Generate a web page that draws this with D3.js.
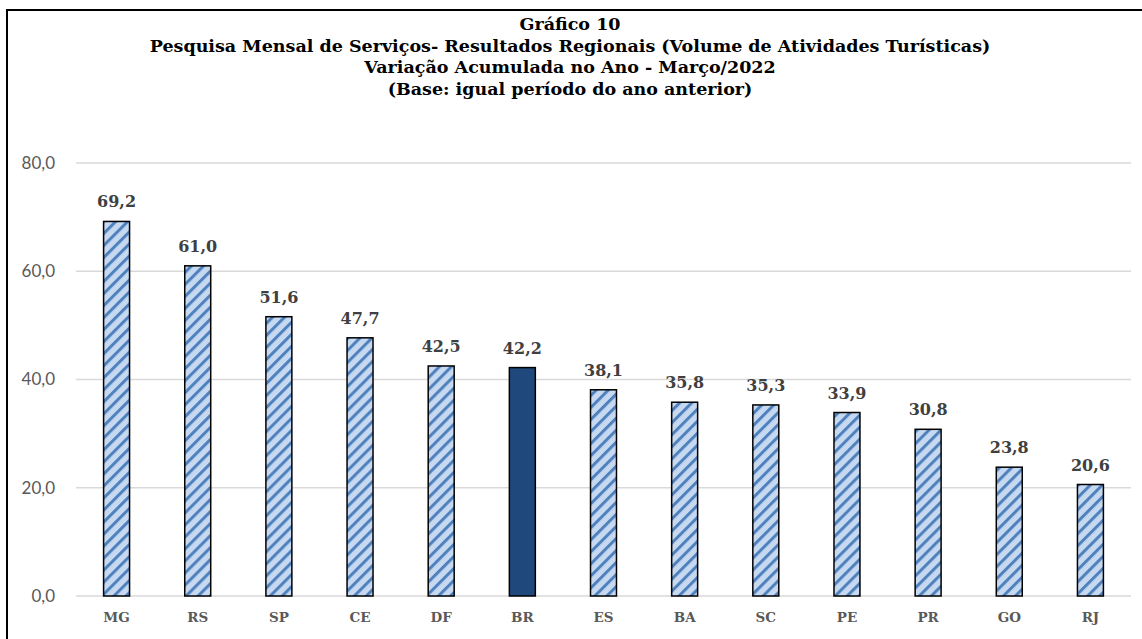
<!DOCTYPE html>
<html>
<head>
<meta charset="utf-8">
<script src="https://cdn.jsdelivr.net/npm/d3@7"></script>
<style>
  body { margin: 0; background: #fff; }
  svg { display: block; }
</style>
</head>
<body>
<script>
const categories = ["MG", "RS", "SP", "CE", "DF", "BR", "ES", "BA", "SC", "PE", "PR", "GO", "RJ"];
const values = [69.2, 61.0, 51.6, 47.7, 42.5, 42.2, 38.1, 35.8, 35.3, 33.9, 30.8, 23.8, 20.6];
const highlight = "BR";
const yTicks = [0, 20, 40, 60, 80];
const titleLines = [
    "Gráfico 10",
    "Pesquisa Mensal de Serviços- Resultados Regionais (Volume de Atividades Turísticas)",
    "Variação Acumulada no Ano - Março/2022",
    "(Base: igual período do ano anterior)"
];

const svgWidth = 1142;
const svgHeight = 639;
const margin = {top: 163, right: 11, bottom: 43, left: 76};
const chartWidth = svgWidth - margin.left - margin.right;
const chartHeight = svgHeight - margin.top - margin.bottom;

const serif = "'DejaVu Serif', serif";
const fmt = v => d3.format(".1f")(v).replace(".", ",");

const svg = d3.select("body").append("svg")
    .attr("width", svgWidth)
    .attr("height", svgHeight);

// diagonal stripe pattern
const pat = svg.append("defs").append("pattern")
    .attr("id", "stripes")
    .attr("patternUnits", "userSpaceOnUse")
    .attr("width", 8.5)
    .attr("height", 8.5)
    .attr("patternTransform", "rotate(45)");
pat.append("rect").attr("width", 8.5).attr("height", 8.5).attr("fill", "#c6d9f1");
pat.append("rect").attr("x", 0).attr("width", 3).attr("height", 8.5).attr("fill", "#4f81bd");

// frame
svg.append("rect")
    .attr("x", 7).attr("y", 10)
    .attr("width", svgWidth + 20).attr("height", svgHeight + 20)
    .attr("fill", "none")
    .attr("stroke", "#000")
    .attr("stroke-width", 2);

// title
svg.append("g").selectAll("text")
    .data(titleLines)
    .join("text")
    .attr("x", 570)
    .attr("y", (d, i) => 30 + i * 21.7)
    .attr("text-anchor", "middle")
    .style("font-family", serif)
    .style("font-weight", "bold")
    .style("font-size", "17.5px")
    .style("fill", "#000")
    .text(d => d);

const g = svg.append("g")
    .attr("transform", `translate(${margin.left}, ${margin.top})`);

const x = d3.scaleBand()
    .domain(categories)
    .range([0, chartWidth])
    .paddingInner(0.68)
    .paddingOuter(0.34);

const y = d3.scaleLinear()
    .domain([0, 80])
    .range([chartHeight, 0]);

// grid
g.append("g").selectAll("line")
    .data(yTicks)
    .join("line")
    .attr("x1", 0).attr("x2", chartWidth)
    .attr("y1", d => y(d)).attr("y2", d => y(d))
    .attr("stroke", "#d9d9d9")
    .attr("stroke-width", 1.3);

// y axis labels
const yAxis = g.append("g")
    .call(d3.axisLeft(y).tickValues(yTicks).tickFormat(fmt).tickSize(0).tickPadding(21));
yAxis.select(".domain").remove();
yAxis.selectAll("text")
    .style("font-family", "Lato, 'Open Sans', sans-serif")
    .style("font-size", "17px")
    .style("fill", "#595959");

// x axis labels
const xAxis = g.append("g")
    .attr("transform", `translate(0, ${chartHeight})`)
    .call(d3.axisBottom(x).tickSize(0).tickPadding(16));
xAxis.select(".domain").remove();
xAxis.selectAll("text")
    .style("font-family", serif)
    .style("font-weight", "bold")
    .style("font-size", "13.5px")
    .style("fill", "#595959");

const data = categories.map((c, i) => ({cat: c, value: values[i]}));

// bars
g.append("g").selectAll("rect")
    .data(data)
    .join("rect")
    .attr("x", d => x(d.cat))
    .attr("y", d => y(d.value))
    .attr("width", x.bandwidth())
    .attr("height", d => chartHeight - y(d.value))
    .attr("fill", d => d.cat === highlight ? "#1f497d" : "url(#stripes)")
    .attr("stroke", "#000")
    .attr("stroke-width", 1.5);

// value labels
g.append("g").selectAll("text")
    .data(data)
    .join("text")
    .attr("x", d => x(d.cat) + x.bandwidth() / 2)
    .attr("y", d => y(d.value) - 14)
    .attr("text-anchor", "middle")
    .style("font-family", serif)
    .style("font-weight", "bold")
    .style("font-size", "16px")
    .style("fill", "#404040")
    .text(d => fmt(d.value));
</script>
</body>
</html>
